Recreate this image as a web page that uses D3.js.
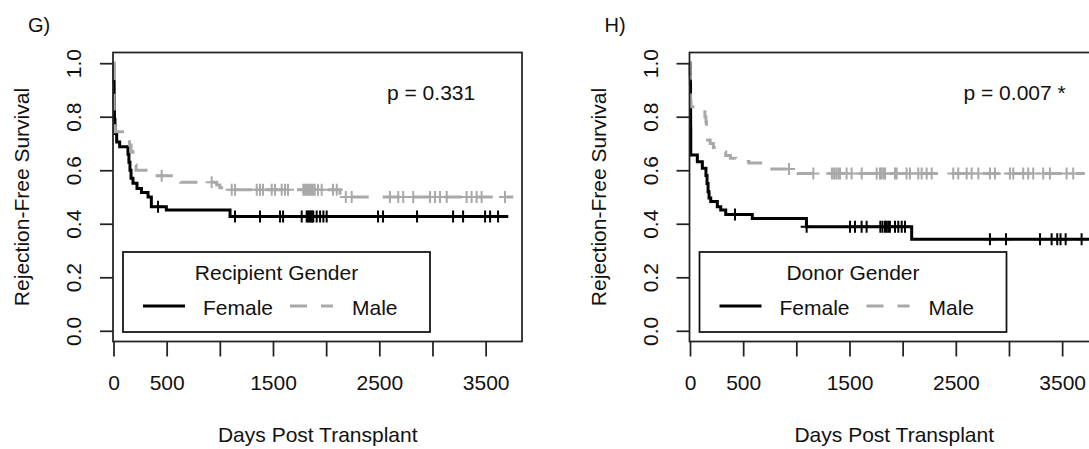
<!DOCTYPE html>
<html>
<head>
<meta charset="utf-8">
<script src="https://cdn.jsdelivr.net/npm/d3@7"></script>
<style>
  body { margin: 0; background: #fff; }
  text { font-family: "Liberation Sans", Arial, sans-serif; fill: #111; }
</style>
</head>
<body>
<svg id="chart" width="1089" height="449"></svg>
<script>
// axis ticks
const xTicks = [0, 500, 1000, 1500, 2000, 2500, 3000, 3500];
const xTickLabels = ["0", "500", "", "1500", "", "2500", "", "3500"];
const yTicks = [0, 0.2, 0.4, 0.6, 0.8, 1.0];
const yTickLabels = ["0.0", "0.2", "0.4", "0.6", "0.8", "1.0"];
const groups = ["Female", "Male"];

// G) recipient gender
const gFemaleTime = [0, 3, 6, 9, 14, 30, 58, 136, 145, 155, 165, 183, 221, 263, 325, 356, 497, 1096];
const gFemaleSurv = [1.0, 0.93, 0.86, 0.79, 0.737, 0.706, 0.688, 0.66, 0.63, 0.60, 0.57, 0.551, 0.532, 0.517, 0.50, 0.464, 0.451, 0.427];
const gFemaleEnd = 3713;
const gFemaleCensor = [419, 1143, 1378, 1566, 1595, 1770, 1817, 1830, 1843, 1856, 1869, 1879, 1911, 1943, 1974, 2005, 2488, 2535, 2855, 3194, 3288, 3495, 3542, 3617];

const gMaleTime = [0, 2, 4, 7, 10, 13, 136, 150, 165, 183, 200, 212, 343, 630, 971, 1000, 1050, 2130];
const gMaleSurv = [1.0, 0.93, 0.86, 0.80, 0.762, 0.744, 0.72, 0.694, 0.67, 0.645, 0.62, 0.60, 0.579, 0.555, 0.545, 0.535, 0.527, 0.50];
const gMaleEnd = 3760;
const gMaleCensor = [453, 923, 1112, 1143, 1347, 1378, 1406, 1488, 1519, 1582, 1613, 1641, 1785, 1800, 1815, 1830, 1845, 1860, 1875, 1892, 1923, 1958, 2064, 2100, 2185, 2240, 2600, 2678, 2725, 2819, 2977, 3024, 3071, 3134, 3321, 3368, 3415, 3462, 3682];

// H) donor gender
const hFemaleTime = [0, 2, 4, 5, 6, 7, 69, 116, 150, 160, 170, 179, 195, 257, 289, 336, 586, 1095, 2085];
const hFemaleSurv = [1.0, 0.96, 0.92, 0.85, 0.76, 0.657, 0.632, 0.607, 0.58, 0.55, 0.52, 0.496, 0.483, 0.464, 0.451, 0.435, 0.42, 0.389, 0.342];
const hFemaleEnd = 3760;
const hFemaleCensor = [423, 1097, 1505, 1552, 1614, 1661, 1790, 1810, 1834, 1849, 1865, 1880, 1928, 1959, 1991, 2022, 2821, 2972, 3292, 3401, 3454, 3485, 3533, 3683];

const hMaleTime = [0, 2, 4, 6, 8, 140, 150, 155, 160, 165, 190, 220, 257, 336, 380, 430, 555, 665, 1016];
const hMaleSurv = [1.0, 0.95, 0.90, 0.86, 0.837, 0.80, 0.78, 0.76, 0.74, 0.713, 0.70, 0.685, 0.668, 0.655, 0.645, 0.633, 0.627, 0.605, 0.588];
const hMaleEnd = 3714;
const hMaleCensor = [931, 1160, 1335, 1355, 1375, 1395, 1411, 1473, 1520, 1615, 1756, 1787, 1800, 1818, 1834, 1928, 1944, 2037, 2069, 2147, 2179, 2226, 2273, 2476, 2523, 2602, 2649, 2712, 2821, 2868, 3009, 3040, 3134, 3181, 3228, 3322, 3385, 3542, 3604];

const panels = [
  { dx: 0, tag: "G)", legendTitle: "Recipient Gender", pText: "p = 0.331",
    series: [
      { time: gFemaleTime, surv: gFemaleSurv, end: gFemaleEnd, censor: gFemaleCensor, color: "#000", dash: null },
      { time: gMaleTime, surv: gMaleSurv, end: gMaleEnd, censor: gMaleCensor, color: "#a9a9a9", dash: "17,14" }
    ] },
  { dx: 576.5, tag: "H)", legendTitle: "Donor Gender", pText: "p = 0.007 *",
    series: [
      { time: hFemaleTime, surv: hFemaleSurv, end: hFemaleEnd, censor: hFemaleCensor, color: "#000", dash: null },
      { time: hMaleTime, surv: hMaleSurv, end: hMaleEnd, censor: hMaleCensor, color: "#a9a9a9", dash: "17,14" }
    ] }
];

const svg = d3.select("#chart");
const fs = 21;

panels.forEach(p => drawPanel(p));

function drawPanel(p) {
  const g = svg.append("g");
  const x = d3.scaleLinear().domain([0, 3842]).range([113.5 + p.dx, 522 + p.dx]);
  const y = d3.scaleLinear().domain([-0.04, 1.04]).range([341.5, 52.5]);

  // curves
  p.series.forEach(s => {
    const pts = s.time.map((t, i) => [t, s.surv[i]]);
    pts.push([s.end, s.surv[s.surv.length - 1]]);
    const line = d3.line().x(d => x(d[0])).y(d => y(d[1])).curve(d3.curveStepAfter);
    g.append("path")
      .attr("d", line(pts))
      .attr("fill", "none")
      .attr("stroke", s.color)
      .attr("stroke-width", 3)
      .attr("stroke-dasharray", s.dash);

    // censor marks
    s.censor.forEach(c => {
      const i = d3.bisectRight(s.time, c) - 1;
      const cx = x(c), cy = y(s.surv[i]);
      g.append("path")
        .attr("d", `M${cx - 6},${cy}H${cx + 6}M${cx},${cy - 6}V${cy + 6}`)
        .attr("stroke", s.color)
        .attr("stroke-width", 2);
    });
  });

  // box
  g.append("rect")
    .attr("x", x(0) - 0.5).attr("y", y(1.04))
    .attr("width", x(3842) - x(0) + 0.5).attr("height", y(-0.04) - y(1.04))
    .attr("fill", "none").attr("stroke", "#222").attr("stroke-width", 1.75);

  // x axis
  const xa = g.append("g")
    .attr("transform", `translate(0,${y(-0.04)})`)
    .call(d3.axisBottom(x).tickValues(xTicks).tickFormat((d, i) => xTickLabels[i]).tickSize(15).tickPadding(19));
  xa.select(".domain").remove();
  xa.selectAll("line").attr("stroke", "#222").attr("stroke-width", 1.75);
  xa.selectAll("text").style("font-size", fs + "px").attr("fill", "#111");

  // y axis
  const ya = g.append("g")
    .attr("transform", `translate(${x(0) - 0.5},0)`)
    .call(d3.axisLeft(y).tickValues(yTicks).tickFormat((d, i) => yTickLabels[i]).tickSize(13));
  ya.select(".domain").remove();
  ya.selectAll("line").attr("stroke", "#222").attr("stroke-width", 1.75);
  ya.selectAll("text")
    .style("font-size", fs + "px").attr("fill", "#111")
    .attr("x", null).attr("dy", null)
    .attr("text-anchor", "middle")
    .attr("transform", "translate(-32,0) rotate(-90)");

  // axis titles
  g.append("text")
    .attr("transform", `translate(${29 + p.dx},${(y(1.04) + y(-0.04)) / 2}) rotate(-90)`)
    .attr("text-anchor", "middle").style("font-size", fs + "px")
    .text("Rejection-Free Survival");
  g.append("text")
    .attr("x", (x(0) + x(3842)) / 2).attr("y", 442)
    .attr("text-anchor", "middle").style("font-size", fs + "px")
    .text("Days Post Transplant");

  // panel tag and p-value
  g.append("text").attr("x", 28 + p.dx).attr("y", 32).style("font-size", "20px").text(p.tag);
  g.append("text").attr("x", 387 + p.dx).attr("y", 100).style("font-size", fs + "px").text(p.pText);

  // legend
  const lx = 123 + p.dx;
  g.append("rect").attr("x", lx).attr("y", 252).attr("width", 307).attr("height", 80)
    .attr("fill", "#fff").attr("stroke", "#111").attr("stroke-width", 1.75);
  g.append("text").attr("x", lx + 153.5).attr("y", 280).attr("text-anchor", "middle")
    .style("font-size", fs + "px").text(p.legendTitle);
  const items = [
    { name: groups[0], x0: 20, x1: 62, tx: 80, s: p.series[0] },
    { name: groups[1], x0: 167, x1: 210, tx: 229, s: p.series[1] }
  ];
  items.forEach(it => {
    g.append("line").attr("x1", lx + it.x0).attr("x2", lx + it.x1).attr("y1", 306).attr("y2", 306)
      .attr("stroke", it.s.color).attr("stroke-width", 3).attr("stroke-dasharray", it.s.dash);
    g.append("text").attr("x", lx + it.tx).attr("y", 315).style("font-size", fs + "px").text(it.name);
  });
}
</script>
</body>
</html>
